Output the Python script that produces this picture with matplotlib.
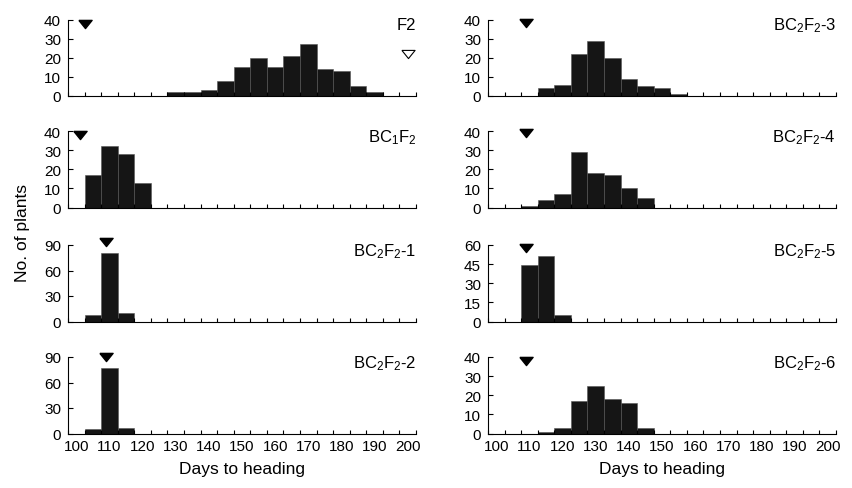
import numpy as np
import matplotlib
matplotlib.use("Agg")
import matplotlib.pyplot as plt

plt.rcParams['font.family'] = ['Liberation Sans', 'DejaVu Sans']
plt.rcParams['mathtext.fontset'] = 'custom'
plt.rcParams['mathtext.rm'] = 'Liberation Sans'
plt.rcParams['mathtext.default'] = 'rm'

# bin centres (days) and counts for each population
f2_days = [130, 135, 140, 145, 150, 155, 160, 165, 170, 175, 180, 185, 190]
f2_counts = [2, 2, 3, 8, 15, 20, 15, 21, 27, 14, 13, 5, 2]

bc1_days = [105, 110, 115, 120]
bc1_counts = [17, 32, 28, 13]

bc2_1_days = [105, 110, 115]
bc2_1_counts = [8, 81, 10]

bc2_2_days = [105, 110, 115]
bc2_2_counts = [5, 77, 7]

bc2_3_days = [115, 120, 125, 130, 135, 140, 145, 150, 155]
bc2_3_counts = [4, 6, 22, 29, 20, 9, 5, 4, 1]

bc2_4_days = [110, 115, 120, 125, 130, 135, 140, 145]
bc2_4_counts = [1, 4, 7, 29, 18, 17, 10, 5]

bc2_5_days = [110, 115, 120]
bc2_5_counts = [44, 51, 5]

bc2_6_days = [115, 120, 125, 130, 135, 140, 145]
bc2_6_counts = [1, 3, 17, 25, 18, 16, 3]

# parent markers: (day, height)
early_parent = {'F2': (102.5, 37.5), 'BC1': (101, 38), 'BC2-1': (109, 93),
                'BC2-2': (109, 90), 'BC2-3': (109, 38), 'BC2-4': (109, 39),
                'BC2-5': (109, 58), 'BC2-6': (109, 38)}
late_parent_f2 = (200, 22)

panels = [
    ('F2', 'F2', f2_days, f2_counts, [0, 10, 20, 30, 40]),
    ('BC1', r'BC$_1$F$_2$', bc1_days, bc1_counts, [0, 10, 20, 30, 40]),
    ('BC2-1', r'BC$_2$F$_2$-1', bc2_1_days, bc2_1_counts, [0, 30, 60, 90]),
    ('BC2-2', r'BC$_2$F$_2$-2', bc2_2_days, bc2_2_counts, [0, 30, 60, 90]),
    ('BC2-3', r'BC$_2$F$_2$-3', bc2_3_days, bc2_3_counts, [0, 10, 20, 30, 40]),
    ('BC2-4', r'BC$_2$F$_2$-4', bc2_4_days, bc2_4_counts, [0, 10, 20, 30, 40]),
    ('BC2-5', r'BC$_2$F$_2$-5', bc2_5_days, bc2_5_counts, [0, 15, 30, 45, 60]),
    ('BC2-6', r'BC$_2$F$_2$-6', bc2_6_days, bc2_6_counts, [0, 10, 20, 30, 40]),
]

W, H = 853, 489
fig = plt.figure(figsize=(W / 100, H / 100), dpi=100)

col_x = [68, 488]
col_w = 348
row_bottom = [97, 208.5, 322.5, 434.5]
row_h = 76.5

# flattened down-pointing triangle (closed)
tri = [(-1, 0.62), (1, 0.62), (0, -0.62), (-1, 0.62)]

for i, (key, title, days, counts, yt) in enumerate(panels):
    col, row = divmod(i, 4)
    ax = fig.add_axes([col_x[col] / W, (H - row_bottom[row]) / H, col_w / W, row_h / H])
    ax.bar(days, counts, width=5, color='#151515', edgecolor='#555555', linewidth=0.4)
    ax.set_xlim(97.5, 202.5)
    ax.set_ylim(0, yt[-1])
    ax.set_yticks(yt)
    ax.spines['top'].set_visible(False)
    ax.spines['right'].set_visible(False)
    ax.spines['left'].set_linewidth(0.8)
    ax.spines['bottom'].set_linewidth(0.8)
    ax.set_xticks(np.arange(97.5, 203, 5))
    ax.set_xticklabels([])
    ax.set_xticks(np.arange(100, 201, 10), minor=True)
    ax.tick_params(axis='x', which='major', direction='in', length=3, width=0.8)
    ax.tick_params(axis='x', which='minor', length=0, labelsize=11, pad=4)
    ax.tick_params(axis='y', direction='in', length=3.5, width=0.8, labelsize=11, pad=5)
    if row == 3:
        ax.set_xticklabels([str(v) for v in range(100, 201, 10)], minor=True)
        ax.set_xlabel('Days to heading', fontsize=12.5, labelpad=6)
    else:
        ax.set_xticklabels([], minor=True)
    ax.text(1.0, 0.93, title, transform=ax.transAxes, ha='right', va='center', fontsize=12)
    mx, my = early_parent[key]
    ax.plot([mx], [my], marker=tri, ms=9.5, color='black', clip_on=False, linestyle='none')
    if key == 'F2':
        ax.plot([late_parent_f2[0]], [late_parent_f2[1]], marker=tri, ms=9.5,
                markerfacecolor='white', markeredgecolor='black', markeredgewidth=0.8,
                clip_on=False, linestyle='none')

fig.text(23 / W, 1 - 233 / H, 'No. of plants', rotation=90, ha='center', va='center', fontsize=12.5)

fig.savefig('out.png', dpi=100)
